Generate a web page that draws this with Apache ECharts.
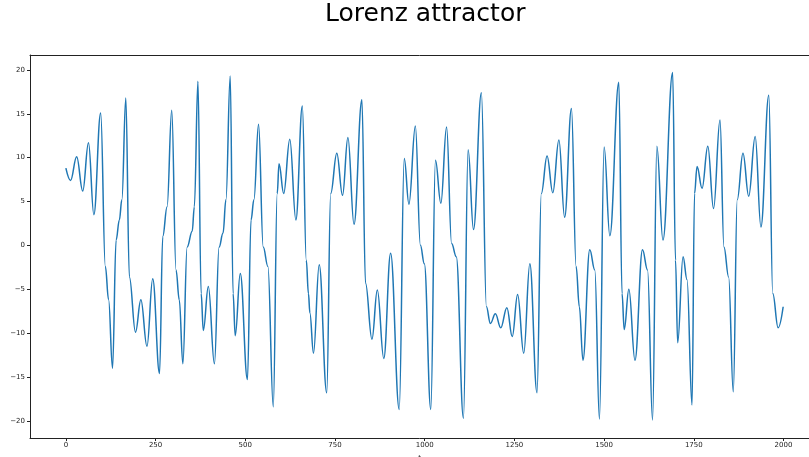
<!DOCTYPE html>
<html><head><meta charset="utf-8">
<script src="https://cdn.jsdelivr.net/npm/echarts@6/dist/echarts.min.js"></script>
<style>html,body{margin:0;padding:0;background:#fff}#c{width:809px;height:457px}</style>
</head><body><div id="c"></div>
<script>
const titleText = "Lorenz attractor";
const xTicks = [0, 250, 500, 750, 1000, 1250, 1500, 1750, 2000];
const yTicks = [-20, -15, -10, -5, 0, 5, 10, 15, 20];
const tValues = [0,13,30,47,63,78,97,110,119,130,140,149,156,167,177,194,209,226,242,261,270,282,295,307,316,326,338,352,358,368,377,383,397,414,427,438,446,458,466,472,486,506,516,524,537,550,563,578,589,594,607,624,641,659,670,676,680,690,706,727,738,755,771,786,803,825,835,853,868,886,905,929,943,956,974,988,999,1017,1030,1045,1061,1075,1088,1108,1121,1136,1158,1172,1183,1197,1212,1229,1244,1259,1276,1293,1313,1325,1341,1357,1374,1390,1409,1422,1431,1441,1460,1474,1487,1500,1516,1541,1550,1556,1569,1586,1607,1621,1635,1647,1664,1691,1699,1705,1720,1731,1745,1752,1759,1773,1789,1805,1823,1834,1847,1860,1871,1887,1903,1921,1937,1959,1970,1985,1999];
const xValues = [8.8,7.4,10.1,6.2,11.7,3.5,15.1,-2.4,-6.2,-14.0,0.6,2.9,5.2,16.8,-3.6,-9.9,-6.2,-11.5,-3.8,-14.6,1.0,4.4,15.4,-2.8,-6.2,-13.5,-0.2,1.6,4.4,18.7,-5.5,-9.7,-4.7,-13.5,-0.2,1.4,5.2,19.3,-5.5,-10.3,-3.2,-15.3,2.9,5.2,13.8,-0.2,-2.4,-18.4,5.9,9.3,5.9,12.1,2.9,15.9,-1.7,-5.5,-7.7,-12.3,-2.2,-16.8,5.9,10.5,5.7,12.3,2.4,16.6,-4.3,-10.7,-5.1,-12.9,-0.9,-18.7,9.9,4.7,13.6,0.0,-2.1,-18.7,9.7,4.8,13.5,0.2,-1.3,-19.7,10.9,1.8,17.4,-7.0,-8.9,-7.8,-9.4,-7.1,-10.4,-5.6,-12.3,-2.1,-16.8,5.9,10.2,6.0,12.0,3.2,15.6,-2.4,-7.0,-13.1,-0.5,-2.8,-19.8,11.2,1.1,18.6,-5.5,-9.6,-5.0,-13.1,-0.5,-2.8,-19.9,11.3,0.6,19.7,-1.7,-11.1,-1.3,-3.9,-18.2,5.9,9.0,6.5,11.3,4.2,14.3,-0.2,-3.6,-16.7,5.2,10.5,5.6,12.4,2.1,17.1,-5.5,-9.4,-7.0];

const data = tValues.map((t, i) => [t, xValues[i]]);
const fmt = v => (v < 0 ? '\u2212' + Math.abs(v) : String(v));
const font = 'DejaVu Sans';
const chart = echarts.init(document.getElementById('c'));
chart.setOption({
  animation: false,
  title: { text: titleText, left: 320, top: -3,
    textStyle: { fontFamily: font, fontSize: 25, fontWeight: 'normal', color: '#000' } },
  grid: { left: 30, right: 0, top: 55, bottom: 19, containLabel: false, outerBoundsMode: 'none' },
  xAxis: [{
    type: 'value', min: -100, max: 2071, name: 't', nameLocation: 'middle', nameGap: 17,
    nameTextStyle: { fontFamily: font, fontSize: 7, color: '#222' },
    axisLine: { show: true, onZero: false, lineStyle: { color: '#222', width: 1 } },
    axisTick: { show: true, customValues: xTicks, length: 3, lineStyle: { color: '#222' } },
    axisLabel: { customValues: xTicks, formatter: fmt, margin: 4, fontFamily: font, fontSize: 7, color: '#222' },
    splitLine: { show: false }
  }, {
    type: 'value', position: 'top', min: -100, max: 2071,
    axisLine: { show: true, onZero: false, lineStyle: { color: '#222', width: 1 } },
    axisTick: { show: false }, axisLabel: { show: false }, splitLine: { show: false }
  }],
  yAxis: {
    type: 'value', min: -21.96, max: 21.7,
    axisLine: { show: true, onZero: false, lineStyle: { color: '#222', width: 1 } },
    axisTick: { show: true, customValues: yTicks, length: 3, lineStyle: { color: '#222' } },
    axisLabel: { customValues: yTicks, formatter: fmt, margin: 5, fontFamily: font, fontSize: 7, color: '#222' },
    splitLine: { show: false }
  },
  series: [{
    type: 'line', data: data, showSymbol: false, smooth: 0.4, smoothMonotone: 'x',
    lineStyle: { color: '#1f77b4', width: 1.5 }
  }]
});
</script></body></html>
